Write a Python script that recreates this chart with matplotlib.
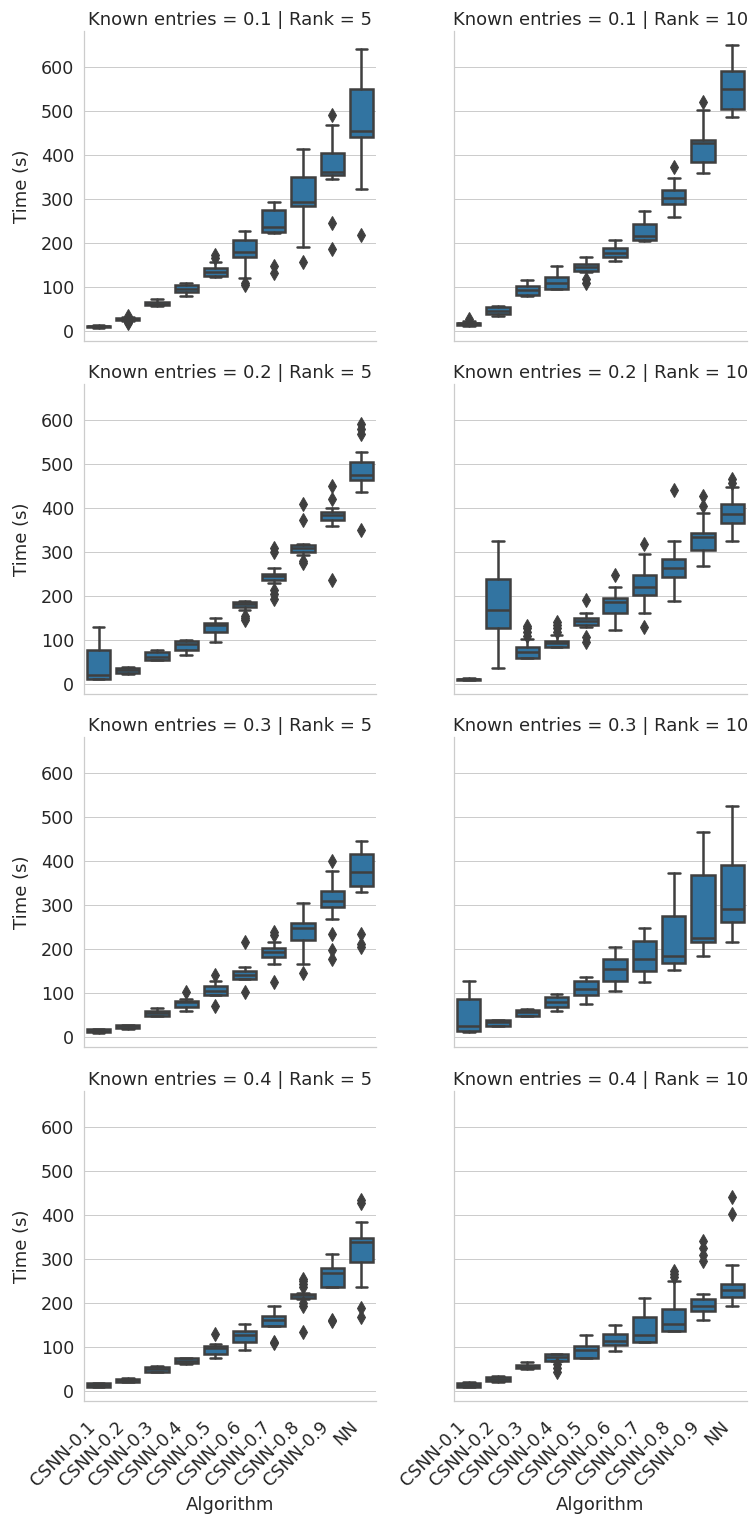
import matplotlib
matplotlib.use("Agg")
import matplotlib.pyplot as plt
import seaborn as sns

algorithms = ["CSNN-0.1", "CSNN-0.2", "CSNN-0.3", "CSNN-0.4", "CSNN-0.5",
              "CSNN-0.6", "CSNN-0.7", "CSNN-0.8", "CSNN-0.9", "NN"]
known_entries = [0.1, 0.2, 0.3, 0.4]
ranks = [5, 10]

# Known entries = 0.1 | Rank = 5
k1_r5_whislo = [7, 23, 57, 79, 122, 120, 223, 191, 346, 323]
k1_r5_q1 = [8, 25, 58, 89, 124, 168, 226, 284, 354, 440]
k1_r5_med = [10, 27, 62, 95, 133, 180, 236, 294, 362, 455]
k1_r5_q3 = [12, 29, 66, 104, 143, 206, 274, 350, 405, 551]
k1_r5_whishi = [13, 31, 73, 109, 157, 227, 294, 413, 469, 642]
k1_r5_fliers = [[], [17, 20, 34], [], [], [165, 172], [104, 110], [132, 148], [157], [186, 246, 492], [219]]

# Known entries = 0.1 | Rank = 10
k1_r10_whislo = [12, 34, 79, 96, 134, 158, 205, 258, 358, 486]
k1_r10_q1 = [14, 38, 81, 96, 136, 168, 206, 289, 384, 505]
k1_r10_med = [17, 45, 94, 109, 145, 178, 215, 303, 427, 551]
k1_r10_q3 = [19, 54, 101, 123, 151, 189, 242, 320, 435, 590]
k1_r10_whishi = [22, 57, 115, 148, 168, 206, 273, 348, 502, 651]
k1_r10_fliers = [[26], [], [], [], [109, 119], [], [], [373], [520], []]

# Known entries = 0.2 | Rank = 5
k2_r5_whislo = [12, 22, 54, 66, 96, 169, 230, 293, 360, 436]
k2_r5_q1 = [12, 24, 54, 78, 119, 175, 237, 299, 373, 463]
k2_r5_med = [20, 31, 62, 91, 133, 182, 245, 310, 383, 476]
k2_r5_q3 = [77, 37, 72, 98, 139, 186, 251, 316, 392, 505]
k2_r5_whishi = [130, 39, 76, 100, 150, 188, 264, 318, 401, 527]
k2_r5_fliers = [[], [], [], [], [], [145, 150, 155], [194, 204, 213, 299, 308],
                [275, 280, 373, 408], [236, 421, 450], [349, 568, 579, 591]]

# Known entries = 0.2 | Rank = 10
k2_r10_whislo = [8, 35, 58, 83, 130, 123, 161, 189, 268, 324]
k2_r10_q1 = [9, 127, 60, 85, 133, 161, 202, 242, 305, 367]
k2_r10_med = [10, 167, 72, 92, 144, 186, 221, 263, 333, 387]
k2_r10_q3 = [12, 238, 83, 98, 150, 195, 247, 284, 343, 408]
k2_r10_whishi = [13, 324, 102, 112, 161, 221, 295, 324, 389, 448]
k2_r10_fliers = [[], [], [110, 118, 126, 132], [118, 126, 133, 140], [95, 106, 190],
                 [247], [129, 318], [442], [404, 427], [457, 465]]

# Known entries = 0.3 | Rank = 5
k3_r5_whislo = [9, 19, 48, 60, 95, 132, 166, 166, 267, 329]
k3_r5_q1 = [10, 20, 48, 69, 95, 132, 182, 220, 296, 344]
k3_r5_med = [14, 24, 54, 79, 105, 141, 192, 247, 308, 376]
k3_r5_q3 = [18, 27, 60, 82, 115, 149, 202, 260, 332, 417]
k3_r5_whishi = [19, 28, 65, 86, 128, 160, 216, 304, 378, 445]
k3_r5_fliers = [[], [], [], [102], [71, 141], [102, 216], [124, 231, 239], [146],
                [178, 197, 235, 401], [205, 212, 233]]

# Known entries = 0.3 | Rank = 10
k3_r10_whislo = [12, 24, 47, 60, 75, 104, 124, 151, 184, 216]
k3_r10_q1 = [14, 25, 48, 67, 95, 126, 150, 168, 216, 262]
k3_r10_med = [25, 33, 56, 79, 109, 155, 178, 184, 224, 290]
k3_r10_q3 = [86, 38, 61, 90, 128, 178, 218, 275, 369, 390]
k3_r10_whishi = [127, 39, 63, 98, 136, 205, 247, 373, 466, 525]
k3_r10_fliers = [[], [], [], [], [], [], [], [], [], []]

# Known entries = 0.4 | Rank = 5
k4_r5_whislo = [8, 20, 43, 62, 75, 93, 148, 208, 236, 236]
k4_r5_q1 = [9, 21, 43, 63, 85, 112, 148, 211, 236, 293]
k4_r5_med = [13, 24, 50, 68, 97, 126, 162, 217, 268, 339]
k4_r5_q3 = [17, 28, 55, 74, 103, 136, 171, 220, 280, 348]
k4_r5_whishi = [18, 29, 56, 75, 106, 152, 194, 222, 312, 383]
k4_r5_fliers = [[], [], [], [], [129], [], [108, 112], [133, 193, 200, 236, 243, 250, 255],
                [158, 162], [169, 188, 427, 434]]

# Known entries = 0.4 | Rank = 10
k4_r10_whislo = [8, 20, 50, 68, 74, 91, 111, 136, 162, 194]
k4_r10_q1 = [9, 22, 51, 68, 74, 105, 112, 136, 181, 213]
k4_r10_med = [14, 28, 55, 78, 93, 114, 127, 152, 192, 230]
k4_r10_q3 = [19, 32, 59, 83, 101, 129, 168, 187, 210, 244]
k4_r10_whishi = [20, 33, 66, 84, 126, 150, 212, 251, 220, 286]
k4_r10_fliers = [[], [], [], [43, 51, 62], [], [], [], [260, 265, 272],
                 [295, 310, 326, 341], [402, 441]]

panels = {
    (0.1, 5): (k1_r5_whislo, k1_r5_q1, k1_r5_med, k1_r5_q3, k1_r5_whishi, k1_r5_fliers),
    (0.1, 10): (k1_r10_whislo, k1_r10_q1, k1_r10_med, k1_r10_q3, k1_r10_whishi, k1_r10_fliers),
    (0.2, 5): (k2_r5_whislo, k2_r5_q1, k2_r5_med, k2_r5_q3, k2_r5_whishi, k2_r5_fliers),
    (0.2, 10): (k2_r10_whislo, k2_r10_q1, k2_r10_med, k2_r10_q3, k2_r10_whishi, k2_r10_fliers),
    (0.3, 5): (k3_r5_whislo, k3_r5_q1, k3_r5_med, k3_r5_q3, k3_r5_whishi, k3_r5_fliers),
    (0.3, 10): (k3_r10_whislo, k3_r10_q1, k3_r10_med, k3_r10_q3, k3_r10_whishi, k3_r10_fliers),
    (0.4, 5): (k4_r5_whislo, k4_r5_q1, k4_r5_med, k4_r5_q3, k4_r5_whishi, k4_r5_fliers),
    (0.4, 10): (k4_r10_whislo, k4_r10_q1, k4_r10_med, k4_r10_q3, k4_r10_whishi, k4_r10_fliers),
}

sns.set_theme(style="whitegrid", font_scale=1.5)
plt.rcParams['font.family'] = ['DejaVu Sans']

W, H = 749, 1518
DPI = 72
fig = plt.figure(figsize=(W / DPI, H / DPI), dpi=DPI)

box_color = "#3274a1"
gray = "#3f3f3f"
lw = 2.5
tick_fs = 17.5
label_fs = 18
title_fs = 18

col_left = [84, 454]
col_width = [292, 293]
row_top = [31, 384, 737, 1091]
ax_h = 310

for i, k in enumerate(known_entries):
    for j, r in enumerate(ranks):
        left = col_left[j] / W
        bottom = 1 - (row_top[i] + ax_h) / H
        ax = fig.add_axes([left, bottom, col_width[j] / W, ax_h / H])
        wl, q1, med, q3, wh, fl = panels[(k, r)]
        stats = []
        for n in range(len(algorithms)):
            stats.append(dict(label=algorithms[n], whislo=wl[n], q1=q1[n], med=med[n],
                              q3=q3[n], whishi=wh[n], fliers=fl[n]))
        ax.bxp(stats, positions=list(range(len(algorithms))), widths=0.8,
               capwidths=0.4, patch_artist=True, showfliers=True,
               boxprops=dict(facecolor=box_color, edgecolor=gray, linewidth=lw),
               medianprops=dict(color=gray, linewidth=lw),
               whiskerprops=dict(color=gray, linewidth=lw),
               capprops=dict(color=gray, linewidth=lw),
               flierprops=dict(marker='d', markerfacecolor=gray, markeredgecolor=gray,
                               markersize=10.5, markeredgewidth=1.0, linestyle='none'))
        ax.set_xlim(-0.5, len(algorithms) - 0.5)
        ax.set_ylim(-23, 682)
        ax.set_yticks([0, 100, 200, 300, 400, 500, 600])
        ax.xaxis.grid(False)
        ax.yaxis.grid(True)
        ax.set_axisbelow(True)
        for s in ["top", "right"]:
            ax.spines[s].set_visible(False)
        ax.tick_params(axis="both", labelsize=tick_fs)
        ax.set_title(f"Known entries = {k} | Rank = {r}", fontsize=title_fs)
        ax.set_xticks(list(range(len(algorithms))))
        if i == len(known_entries) - 1:
            ax.tick_params(axis="x", pad=11)
            ax.set_xticklabels(algorithms, rotation=45, ha="right")
            ax.set_xlabel("Algorithm", fontsize=label_fs, labelpad=6)
        else:
            ax.set_xticklabels([])
            ax.set_xlabel("")
        if j == 0:
            ax.set_ylabel("Time (s)", fontsize=label_fs, labelpad=10)
        else:
            ax.set_yticklabels([])
            ax.set_ylabel("")

fig.savefig("out.png", dpi=DPI)
